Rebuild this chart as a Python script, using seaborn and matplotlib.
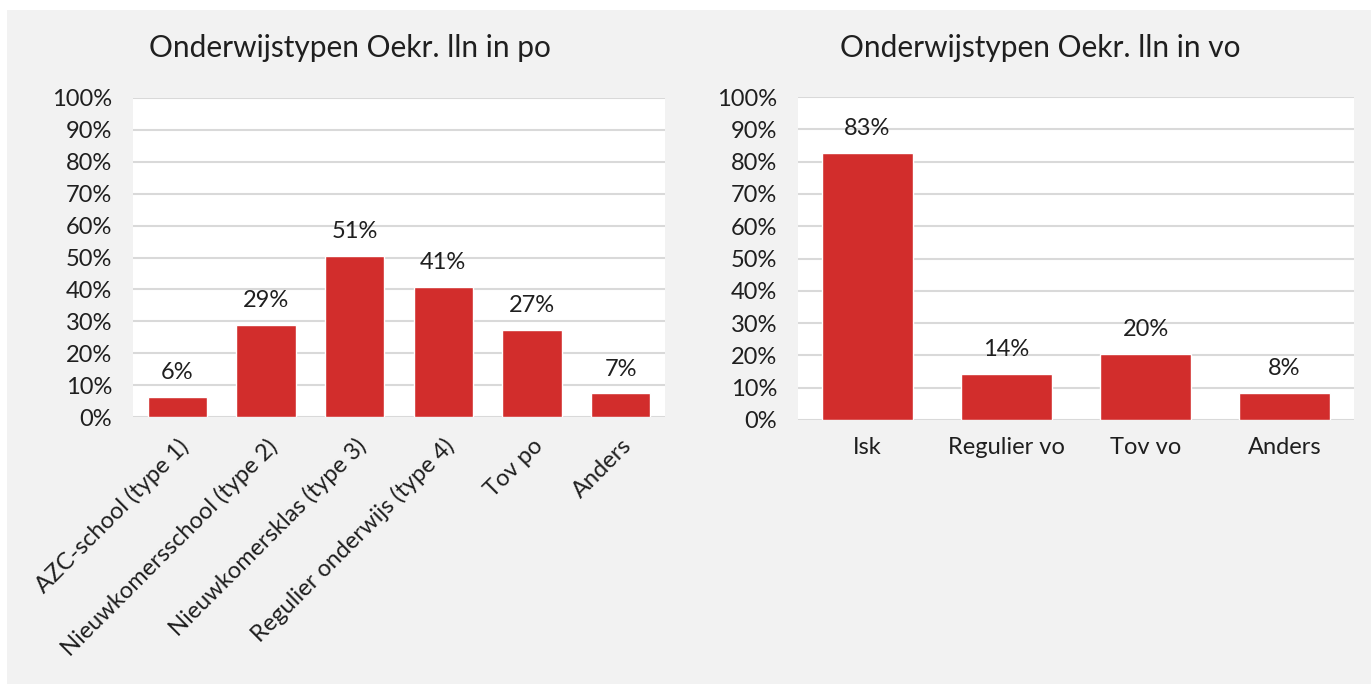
import seaborn as sns
import matplotlib.pyplot as plt
from matplotlib.patches import Rectangle

# data
po_labels = ['AZC-school (type 1)', 'Nieuwkomersschool (type 2)',
             'Nieuwkomersklas (type 3)', 'Regulier onderwijs (type 4)',
             'Tov po', 'Anders']
po_values = [6.2, 28.8, 50.6, 40.8, 27.2, 7.4]

vo_labels = ['Isk', 'Regulier vo', 'Tov vo', 'Anders']
vo_values = [82.7, 14.3, 20.4, 8.3]

y_ticks = list(range(0, 101, 10))

bar_color = '#d22d2c'
text_color = '#1f1f1f'
grid_color = '#d9d9d9'
fs = 17

sns.set_style('white')
plt.rcParams['font.family'] = ['Lato', 'DejaVu Sans']
plt.rcParams['text.color'] = text_color
plt.rcParams['xtick.color'] = text_color
plt.rcParams['ytick.color'] = text_color

W, H = 1371, 684
fig = plt.figure(figsize=(W / 100, H / 100), dpi=100)
fig.patch.set_facecolor('white')

# grey background panel
fig.patches.append(Rectangle((7 / W, 0 / H), (W - 7) / W, (H - 10) / H,
                             transform=fig.transFigure, facecolor='#f2f2f2',
                             edgecolor='none', zorder=-10))


def px_axes(x0, y0, x1, y1):
    # pixel box (top-down image coords) -> figure axes
    return fig.add_axes([x0 / W, 1 - y1 / H, (x1 - x0) / W, (y1 - y0) / H])


def draw_panel(ax, labels, values, width, rotate):
    sns.barplot(x=labels, y=values, ax=ax, color=bar_color,
                saturation=1, width=width)
    ax.set_facecolor('white')
    ax.set_ylim(0, 100)
    ax.set_xlim(-0.5, len(labels) - 0.5)
    ax.set_yticks(y_ticks)
    ax.set_yticklabels([f'{t}%' for t in y_ticks], fontsize=fs)
    ax.tick_params(axis='y', length=0, pad=15)
    ax.grid(axis='y', color=grid_color, linewidth=1.5)
    ax.set_axisbelow(True)
    for s in ax.spines.values():
        s.set_visible(False)
    ax.set_xlabel('')
    ax.set_ylabel('')
    if rotate:
        ax.set_xticks(range(len(labels)))
        ax.set_xticklabels(labels, rotation=45, ha='right',
                           rotation_mode='anchor', fontsize=fs)
        ax.tick_params(axis='x', length=0, pad=13)
    else:
        ax.tick_params(axis='x', length=0, pad=12, labelsize=fs)
    ax.bar_label(ax.containers[0], labels=[f'{v:.0f}%' for v in values],
                 padding=10, fontsize=fs)


ax1 = px_axes(133, 98, 665, 417)
draw_panel(ax1, po_labels, po_values, 0.67, True)

ax2 = px_axes(798, 97, 1354, 420)
draw_panel(ax2, vo_labels, vo_values, 0.655, False)

fig.text(350 / W, 1 - 48 / H, 'Onderwijstypen Oekr. lln in po',
         ha='center', va='center', fontsize=21.5)
fig.text(1040 / W, 1 - 48 / H, 'Onderwijstypen Oekr. lln in vo',
         ha='center', va='center', fontsize=21.5)

fig.savefig('out.png', dpi=100, facecolor=fig.get_facecolor())
